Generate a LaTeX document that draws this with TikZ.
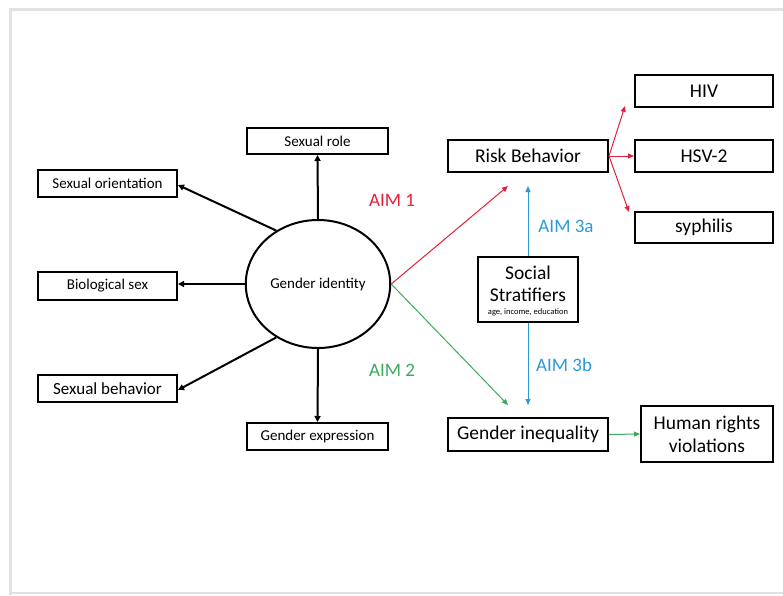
\documentclass[tikz,border=0pt]{standalone}
\usepackage{fontspec}
\setmainfont{Carlito}
\usetikzlibrary{arrows.meta,shapes.geometric}
\definecolor{aimred}{HTML}{E5213A}
\definecolor{aimgreen}{HTML}{3BAA5C}
\definecolor{aimblue}{HTML}{2B9BD8}
\definecolor{framegray}{HTML}{E2E2E2}
\tikzset{
  box/.style={draw=black, line width=2pt, inner sep=0pt},
  bigtxt/.style={font=\fontsize{19.5}{23}\selectfont},
  midtxt/.style={font=\fontsize{17}{20}\selectfont},
  smalltxt/.style={font=\fontsize{15}{18}\selectfont},
  blk/.style={-{Triangle[length=6pt,width=6pt]}, line width=2pt, black},
  clr/.style={-{Triangle[length=6pt,width=5pt]}, line width=1pt},
  aimlbl/.style={font=\fontsize{19}{22}\selectfont}
}
\begin{document}
\begin{tikzpicture}[x=1pt,y=-1pt]
\useasboundingbox (0,0) rectangle (783,595);
\fill[white] (0,0) rectangle (783,595);
% frame
\draw[framegray, line width=3pt] (10,595) -- (10,9) -- (783,9);
\draw[framegray, line width=2pt] (10,593) -- (783,593);

% center
\node[draw=black, line width=2pt, ellipse, minimum width=140pt, minimum height=128pt, smalltxt] (gi) at (318,284) {Gender identity};

% left boxes
\node[box, minimum width=141pt, minimum height=26pt, smalltxt] (role) at (317.5,141) {Sexual role};
\node[box, minimum width=139pt, minimum height=27pt, smalltxt] (orient) at (107.5,183.5) {Sexual orientation};
\node[box, minimum width=139pt, minimum height=28pt, smalltxt] (bio) at (107.5,286) {Biological sex};
\node[box, minimum width=139pt, minimum height=27pt, midtxt] (sbeh) at (107.5,388.5) {Sexual behavior};
\node[box, minimum width=141pt, minimum height=27pt, smalltxt] (gexp) at (317.5,436.5) {Gender expression};

% right boxes
\node[box, minimum width=160pt, minimum height=32pt, bigtxt] (risk) at (528,156) {Risk Behavior};
\node[box, minimum width=138pt, minimum height=32pt, bigtxt] (hiv) at (704,91) {HIV};
\node[box, minimum width=138pt, minimum height=32pt, bigtxt] (hsv) at (704,156) {HSV-2};
\node[box, minimum width=138pt, minimum height=31pt, bigtxt] (syph) at (704,227.5) {syphilis};
\node[box, minimum width=100pt, minimum height=65pt] (soc) at (528,289.5) {};
\node[font=\fontsize{19.5}{22}\selectfont, align=center] (soctxt) at (528,284) {Social\\Stratifiers};
\node[font=\fontsize{8.5}{10}\selectfont] (socsub) at (528,312.5) {age, income, education};
\node[box, minimum width=160pt, minimum height=33pt, bigtxt] (gineq) at (528,434.5) {Gender inequality};
\node[box, minimum width=132pt, minimum height=56pt, bigtxt, align=center] (hrv) at (707,434) {Human rights\\violations};

% black arrows
\draw[blk] (gi.north) -- (role.south);
\draw[blk] (gi.south) -- (gexp.north);
\draw[blk] (gi.west) -- (gi.west -| bio.east);
\coordinate (orientend) at (178,185);
\coordinate (sbehend) at (178,390);
\draw[blk] (gi.128) -- (orientend);
\draw[blk] (gi.232) -- (sbehend);

% coloured arrows
\coordinate (riskin) at (508,186);
\coordinate (gineqin) at (508,405);
\coordinate (riskbot) at (528,186);
\coordinate (gineqtop) at (528,405);
\coordinate (hivin) at (625,106);
\coordinate (syphin) at (629,212);
\draw[clr, aimred] (gi.east) -- (riskin);
\draw[clr, aimgreen] (gi.east) -- (gineqin);
\draw[clr, aimblue] (soc.north) -- (riskbot);
\draw[clr, aimblue] (soc.south) -- (gineqtop);
\draw[clr, aimred] (risk.east) -- (hivin);
\draw[clr, aimred] (risk.east) -- (hsv.west);
\draw[clr, aimred] (risk.east) -- (syphin);
\draw[clr, aimgreen] (gineq.east) -- (hrv.west);

% AIM labels
\node[aimlbl, text=aimred] (aim1) at (392,200) {AIM 1};
\node[aimlbl, text=aimgreen] (aim2) at (392,370) {AIM 2};
\node[aimlbl, text=aimblue] (aim3a) at (566,226) {AIM 3a};
\node[aimlbl, text=aimblue] (aim3b) at (564,365) {AIM 3b};
\end{tikzpicture}
\end{document}
